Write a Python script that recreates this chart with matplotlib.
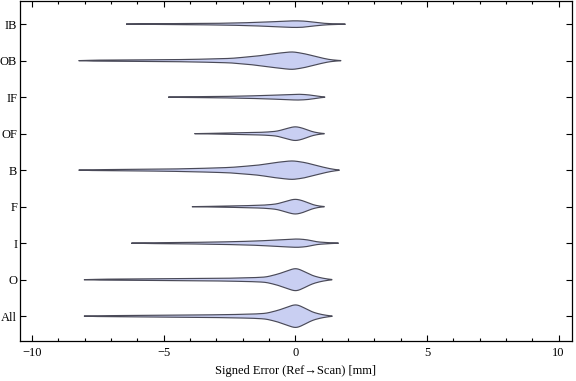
import numpy as np
import matplotlib
matplotlib.use("Agg")
import matplotlib.pyplot as plt
from matplotlib.ticker import MultipleLocator

plt.rcParams['font.family'] = ['Liberation Serif', 'DejaVu Serif']

# categories, bottom to top
cats = ["All", "O", "I", "F", "B", "OF", "IF", "OB", "IB"]

# violin outlines: signed error (mm) and half-width (px of 36.5 px per row)
x_all = [-8.0, -7.3, -6.0, -4.5, -2.6, -1.6, -1.1, -0.6, 0.03, 0.35, 0.65, 1.0, 1.4]
w_all = [0, 0.5, 0.7, 1.0, 1.5, 2.1, 2.8, 6.2, 12.3, 8.2, 4.0, 1.6, 0]
x_o = [-8.0, -7.3, -6.0, -4.5, -2.6, -1.6, -1.1, -0.6, 0.03, 0.35, 0.65, 1.0, 1.39]
w_o = [0, 0.5, 0.7, 0.9, 1.4, 2.0, 2.6, 6.0, 12.0, 8.0, 4.0, 1.6, 0]
x_i = [-6.2, -5.5, -4.5, -3.3, -2.3, -1.4, -0.6, 0.1, 0.5, 0.8, 1.2, 1.64]
w_i = [0, 0.4, 0.6, 1.0, 1.5, 2.2, 3.4, 4.3, 3.3, 1.3, 0.6, 0]
x_f = [-3.9, -3.0, -2.0, -1.2, -0.7, -0.4, 0.0, 0.35, 0.6, 0.85, 1.1]
w_f = [0, 0.4, 0.9, 1.5, 2.6, 5.0, 8.0, 5.5, 2.4, 0.8, 0]
x_b = [-8.2, -7.5, -6.0, -5.0, -4.0, -3.0, -2.4, -1.4, -0.7, -0.1, 0.4, 0.9, 1.3, 1.67]
w_b = [0, 0.5, 0.8, 1.0, 1.5, 2.2, 2.8, 5.0, 7.8, 9.5, 7.5, 4.0, 1.5, 0]
x_of = [-3.8, -3.0, -2.0, -1.2, -0.7, -0.4, 0.0, 0.35, 0.6, 0.85, 1.1]
w_of = [0, 0.4, 0.9, 1.4, 2.3, 4.5, 7.5, 5.0, 2.2, 0.8, 0]
x_if = [-4.8, -4.2, -3.0, -2.1, -1.2, -0.5, 0.1, 0.5, 0.8, 1.0, 1.12]
w_if = [0, 0.4, 0.6, 1.0, 1.6, 2.3, 3.0, 2.4, 1.2, 0.4, 0]
x_ob = [-8.2, -7.6, -6.5, -5.0, -4.0, -3.0, -2.4, -1.4, -0.7, -0.1, 0.4, 0.9, 1.3, 1.73]
w_ob = [0, 0.5, 0.7, 0.9, 1.2, 1.8, 2.3, 4.7, 7.3, 9.0, 6.7, 3.3, 1.0, 0]
x_ib = [-6.4, -5.5, -4.0, -3.0, -2.0, -1.0, -0.4, 0.0, 0.4, 0.8, 1.2, 1.6, 1.9]
w_ib = [0, 0.4, 0.6, 0.8, 1.3, 2.2, 3.0, 3.4, 3.0, 1.5, 0.6, 0.3, 0]

xs = [x_all, x_o, x_i, x_f, x_b, x_of, x_if, x_ob, x_ib]
ws = [w_all, w_o, w_i, w_f, w_b, w_of, w_if, w_ob, w_ib]

fig = plt.figure(figsize=(5.76, 3.81), dpi=100)
ax = fig.add_axes([0.0347, 0.105, 0.958, 0.892])

row_px = 36.5
for k, (xk, wk) in enumerate(zip(xs, ws)):
    g = np.linspace(xk[0], xk[-1], 800)
    h = np.interp(g, xk, wk)
    # smooth the corners a little
    step = g[1] - g[0]
    ker = np.exp(-0.5 * (np.arange(-60, 61) * step / 0.12) ** 2)
    ker /= ker.sum()
    h = np.convolve(np.pad(h, 60), ker, mode="same")[60:-60]
    h = h / row_px
    y0 = k + 1
    ax.fill_between(g, y0 - h, y0 + h, facecolor="#c9cff2", edgecolor="none", zorder=2)
    ax.plot(np.r_[g, g[::-1]], np.r_[y0 + h, (y0 - h)[::-1]], color="#4a4a58", lw=0.85, zorder=3)

ax.set_xlim(-10.45, 10.5)
ax.set_ylim(0.32, 9.63)
ax.set_yticks(range(1, len(cats) + 1))
ax.set_yticklabels(cats)
ax.xaxis.set_major_locator(MultipleLocator(5))
ax.xaxis.set_minor_locator(MultipleLocator(1))
ax.tick_params(axis="both", which="both", direction="in", top=True, right=True,
               labelsize=9, colors="black", width=0.8)
ax.tick_params(axis="x", which="major", length=4, pad=4)
ax.tick_params(axis="x", which="minor", length=2.5)
ax.tick_params(axis="y", which="major", length=4, pad=2)
ax.tick_params(axis="y", which="minor", left=False, right=False)
for s in ax.spines.values():
    s.set_linewidth(0.9)

ax.set_xlabel("Signed Error (Ref\u2192Scan) [mm]", fontsize=9, labelpad=5)

fig.savefig("out.png", dpi=100)
